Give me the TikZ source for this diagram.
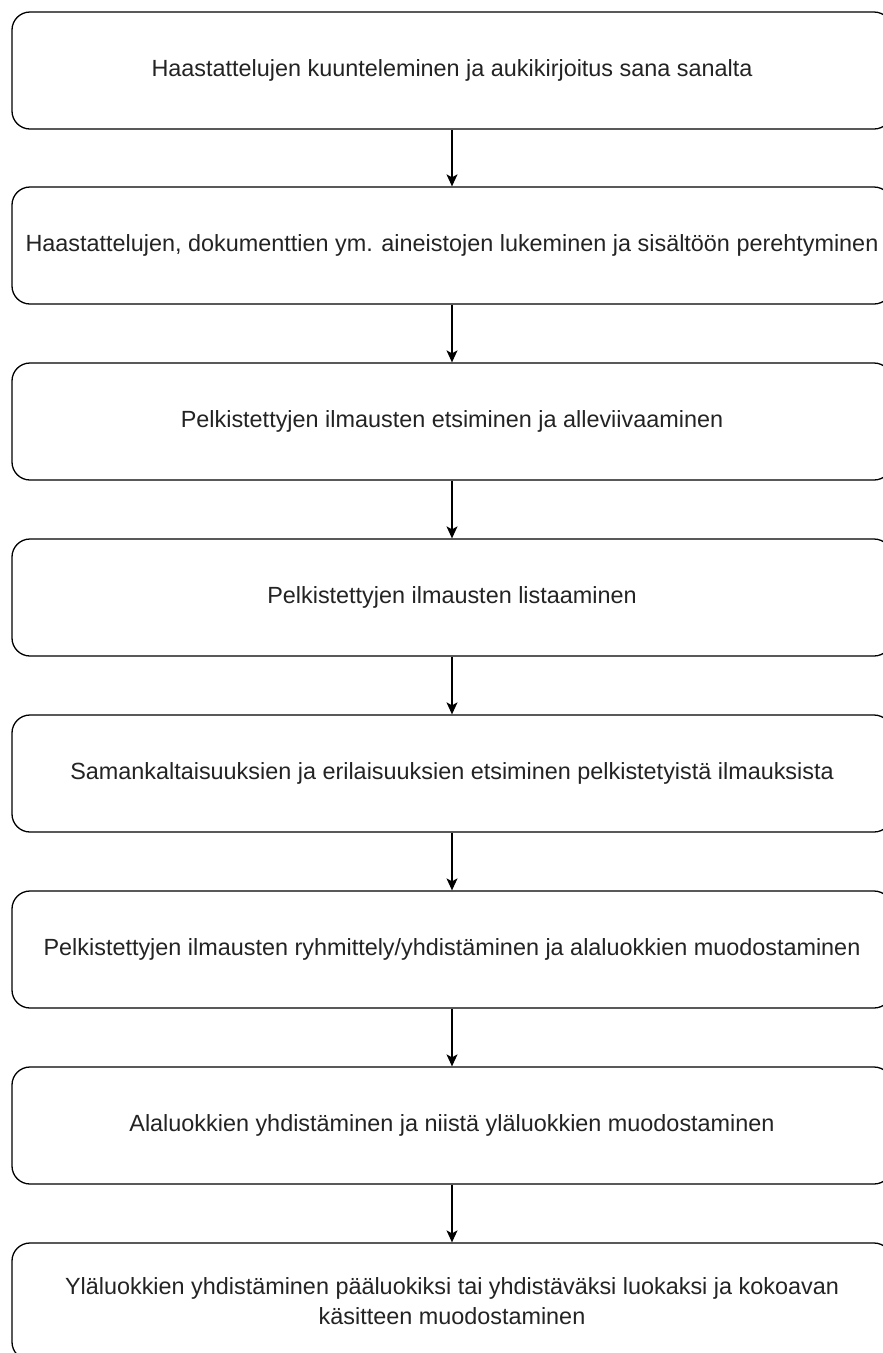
\documentclass[tikz,border=0pt]{standalone}
\usepackage{fontspec}
\setmainfont{Liberation Sans}
\usetikzlibrary{arrows.meta}
\definecolor{txt}{RGB}{35,35,35}
\tikzset{
  stepbox/.style={draw=black, line width=1.3pt, rounded corners=18pt, fill=white,
    minimum width=880pt, minimum height=117pt, inner sep=0pt, align=center,
    text=txt, font=\fontsize{23.4}{30}\selectfont},
  conn/.style={draw=black, line width=1.3pt, -{Stealth[length=12pt,width=11pt,inset=3pt]}}
}
\begin{document}
\begin{tikzpicture}[x=1pt,y=-1pt]
\useasboundingbox (0,0) rectangle (883,1353);
\clip (0,0) rectangle (883,1353);
\fill[white] (0,0) rectangle (883,1353);
\node[stepbox] (b1) at (452,70.5) {Haastattelujen kuunteleminen ja aukikirjoitus sana sanalta};
\node[stepbox] (b2) at (452,245.5) {Haastattelujen, dokumenttien ym. aineistojen lukeminen ja sisältöön perehtyminen};
\node[stepbox] (b3) at (452,421.5) {Pelkistettyjen ilmausten etsiminen ja alleviivaaminen};
\node[stepbox] (b4) at (452,597.5) {Pelkistettyjen ilmausten listaaminen};
\node[stepbox] (b5) at (452,773.5) {Samankaltaisuuksien ja erilaisuuksien etsiminen pelkistetyistä ilmauksista};
\node[stepbox] (b6) at (452,949.5) {Pelkistettyjen ilmausten ryhmittely/yhdistäminen ja alaluokkien muodostaminen};
\node[stepbox] (b7) at (452,1125.5) {Alaluokkien yhdistäminen ja niistä yläluokkien muodostaminen};
\node[stepbox] (b8) at (452,1301.5) {Yläluokkien yhdistäminen pääluokiksi tai yhdistäväksi luokaksi ja kokoavan\\käsitteen muodostaminen};
\draw[conn] (b1) -- (b2);
\draw[conn] (b2) -- (b3);
\draw[conn] (b3) -- (b4);
\draw[conn] (b4) -- (b5);
\draw[conn] (b5) -- (b6);
\draw[conn] (b6) -- (b7);
\draw[conn] (b7) -- (b8);
\end{tikzpicture}
\end{document}
